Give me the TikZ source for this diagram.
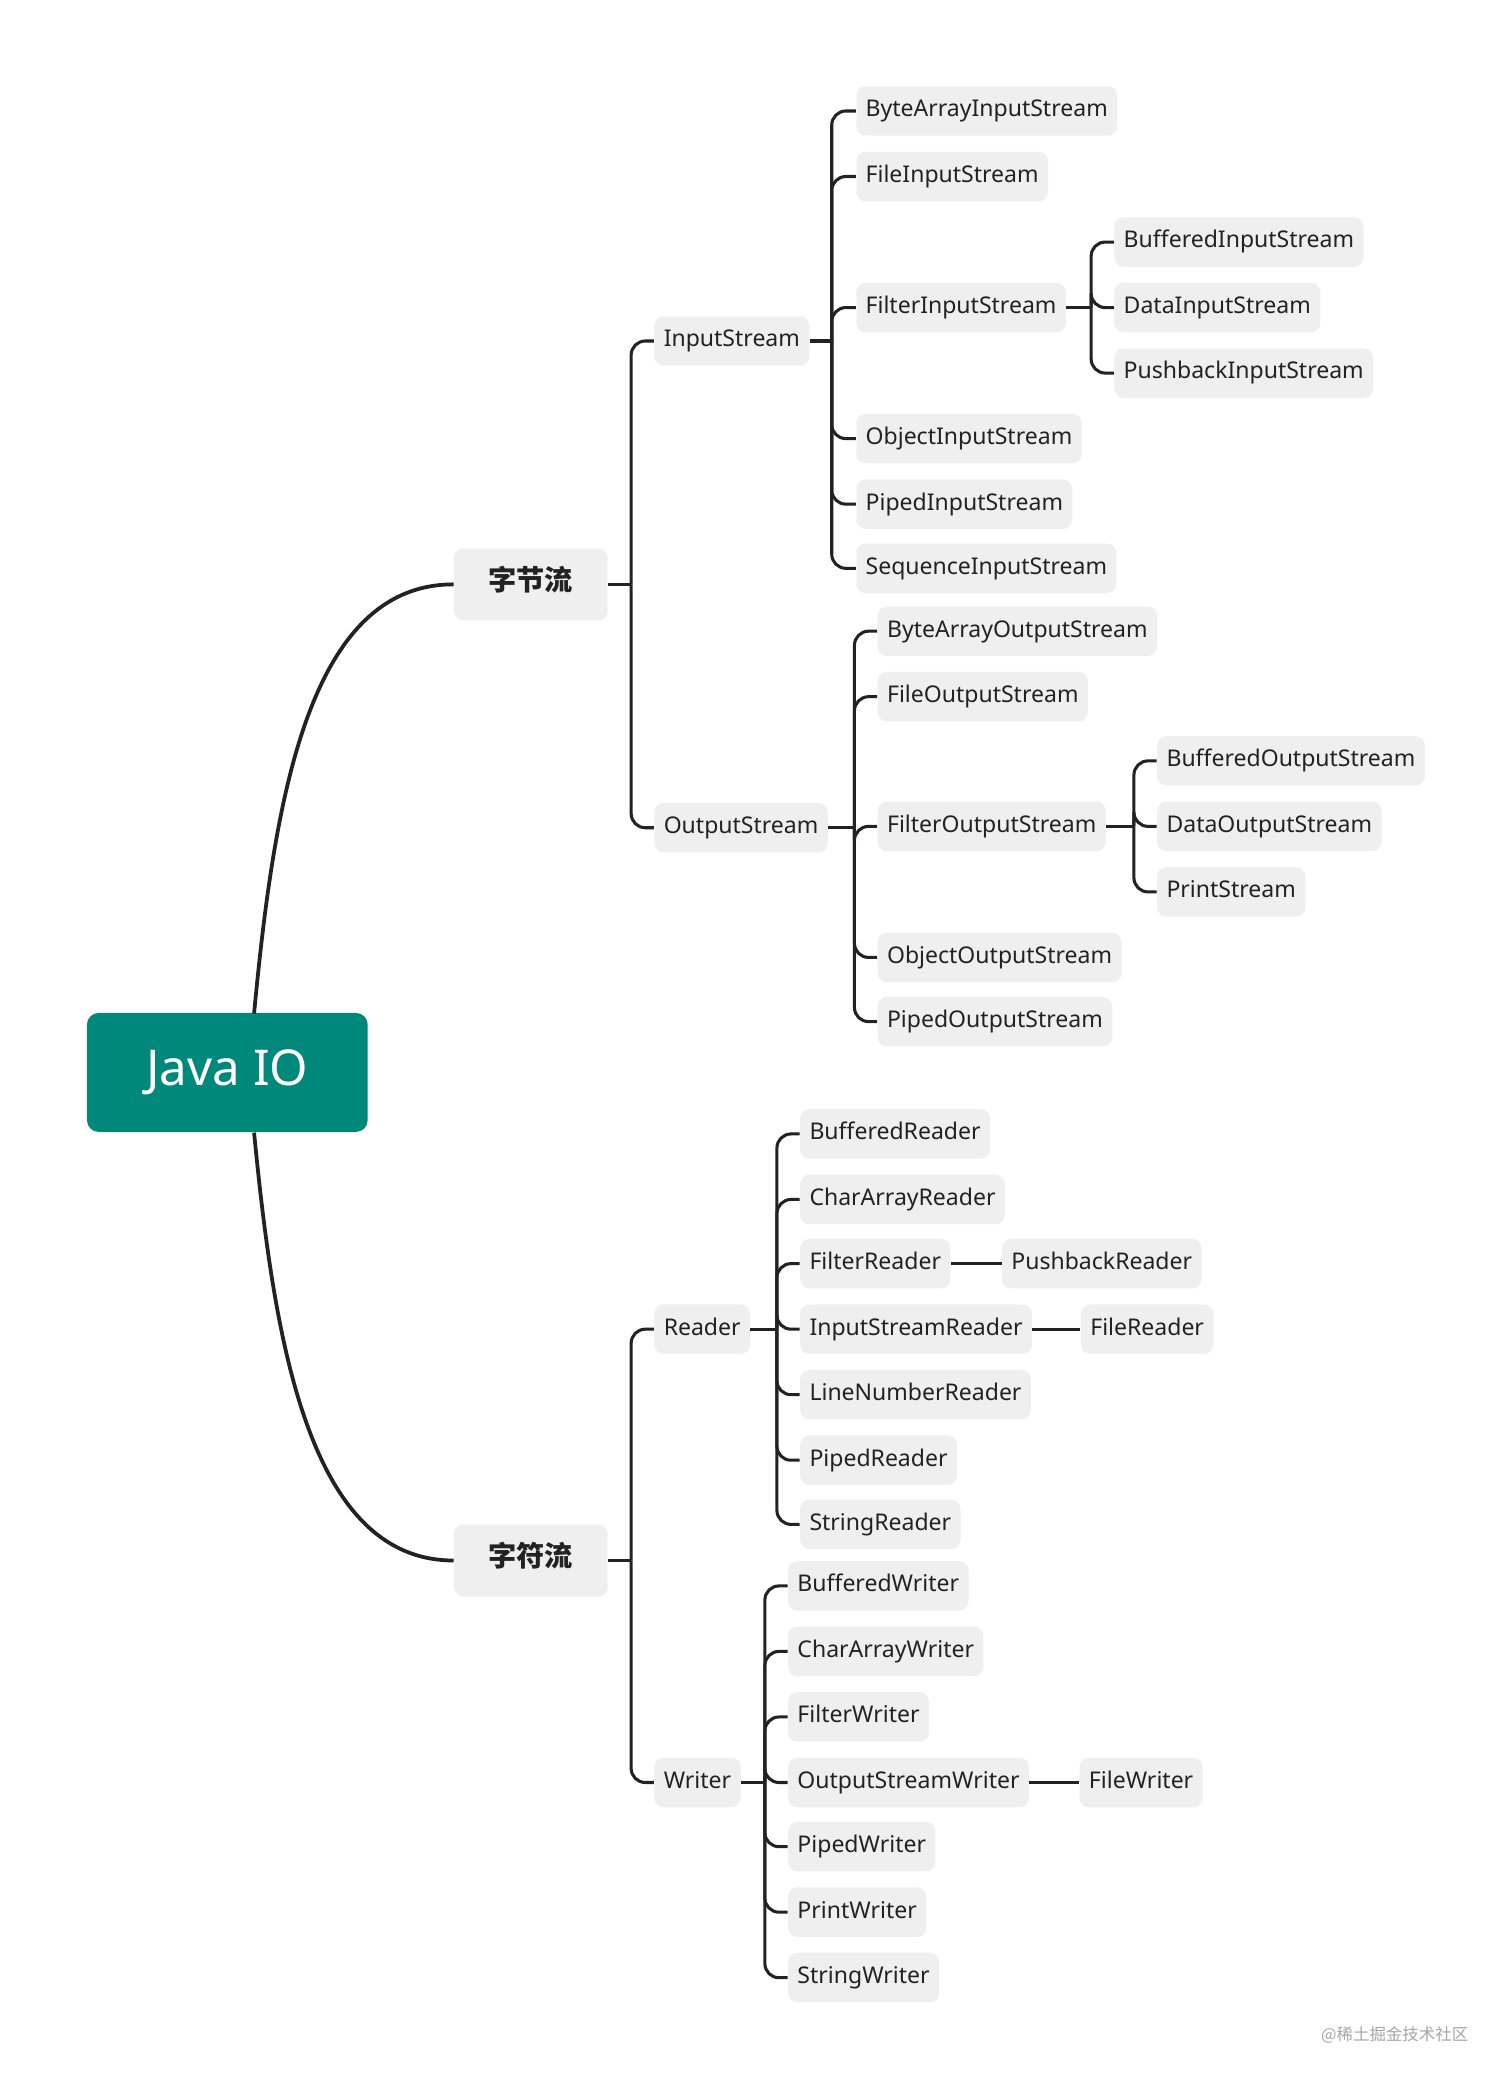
\documentclass[tikz,border=0pt]{standalone}
\usepackage{fontspec}
\setmainfont{Noto Sans}
\newfontfamily\cjk{Noto Sans CJK SC}
\usetikzlibrary{calc}
\definecolor{boxg}{HTML}{EFEFEF}
\definecolor{teal}{HTML}{00897B}
\definecolor{txt}{HTML}{222222}
\tikzset{
 box/.style={fill=boxg,rounded corners=4pt,text=txt,font=\fontsize{9.8}{11}\selectfont,inner xsep=4pt,minimum height=0.74cm,text height=7pt,text depth=2pt,anchor=west},
 big/.style={box,font=\cjk\bfseries\fontsize{12}{13}\selectfont,minimum height=1.08cm,minimum width=2.3cm,anchor=center},
 link/.style={draw=txt,line width=1.3pt},
}
\newcommand\mmkid[4]{\node[box] (#1) at (#3,#4) {#2};}
\newcommand\mmlink[3]{\draw[link] (#1.east) -- (#2,0 |- #1.east);
 \draw[link,rounded corners=6pt] (#2,0 |- #1.east) |- (#3.west);}
\begin{document}
\begin{tikzpicture}[x=0.02cm,y=-0.02cm]
\useasboundingbox[fill=white] (0,0) rectangle (1130,1560);
\node[fill=teal,rounded corners=5pt,text=white,minimum width=4.2cm,minimum height=1.78cm,font=\fontsize{21}{24}\selectfont] (root) at (170,802) {Java IO};
\node[big] (byte) at (397,437) {字节流};
\node[big] (char) at (397,1167) {字符流};
\draw[txt,line width=1.6pt] (190,758) .. controls (205,600) and (230,437) .. (byte.west);
\draw[txt,line width=1.6pt] (190,847) .. controls (205,1000) and (230,1167) .. (char.west);
\mmkid{is}{InputStream}{489}{255}
\mmkid{os}{OutputStream}{489}{619}
\mmlink{byte}{472}{is}\mmlink{byte}{472}{os}
\mmkid{bais}{ByteArrayInputStream}{640}{83}
\mmkid{fis}{FileInputStream}{640}{132}
\mmkid{filis}{FilterInputStream}{640}{230}
\mmkid{ois}{ObjectInputStream}{640}{328}
\mmkid{pis}{PipedInputStream}{640}{377}
\mmkid{sis}{SequenceInputStream}{640}{425}
\foreach \c in {bais,fis,filis,ois,pis,sis}{\mmlink{is}{622}{\c}}
\mmkid{bis}{BufferedInputStream}{833}{181}
\mmkid{dis}{DataInputStream}{833}{230}
\mmkid{pbis}{PushbackInputStream}{833}{279}
\foreach \c in {bis,dis,pbis}{\mmlink{filis}{816}{\c}}
\mmkid{baos}{ByteArrayOutputStream}{656}{472}
\mmkid{fos}{FileOutputStream}{656}{521}
\mmkid{filos}{FilterOutputStream}{656}{618}
\mmkid{oos}{ObjectOutputStream}{656}{716}
\mmkid{pos}{PipedOutputStream}{656}{764}
\foreach \c in {baos,fos,filos,oos,pos}{\mmlink{os}{639}{\c}}
\mmkid{bos}{BufferedOutputStream}{865}{569}
\mmkid{dos}{DataOutputStream}{865}{618}
\mmkid{ps}{PrintStream}{865}{667}
\foreach \c in {bos,dos,ps}{\mmlink{filos}{848}{\c}}
\mmkid{rd}{Reader}{489}{994}
\mmkid{wr}{Writer}{489}{1333}
\mmlink{char}{472}{rd}\mmlink{char}{472}{wr}
\mmkid{br}{BufferedReader}{598}{848}
\mmkid{car}{CharArrayReader}{598}{897}
\mmkid{fr}{FilterReader}{598}{945}
\mmkid{isr}{InputStreamReader}{598}{994}
\mmkid{lnr}{LineNumberReader}{598}{1043}
\mmkid{pr}{PipedReader}{598}{1092}
\mmkid{sr}{StringReader}{598}{1140}
\foreach \c in {br,car,fr,isr,lnr,pr,sr}{\mmlink{rd}{581}{\c}}
\mmkid{pbr}{PushbackReader}{749}{945}
\mmkid{filr}{FileReader}{808}{994}
\draw[link] (fr.east) -- (pbr.west);
\draw[link] (isr.east) -- (filr.west);
\mmkid{bw}{BufferedWriter}{589}{1186}
\mmkid{caw}{CharArrayWriter}{589}{1235}
\mmkid{fw}{FilterWriter}{589}{1284}
\mmkid{osw}{OutputStreamWriter}{589}{1333}
\mmkid{pw}{PipedWriter}{589}{1381}
\mmkid{prw}{PrintWriter}{589}{1430}
\mmkid{sw}{StringWriter}{589}{1479}
\foreach \c in {bw,caw,fw,osw,pw,prw,sw}{\mmlink{wr}{572}{\c}}
\mmkid{filw}{FileWriter}{807}{1333}
\draw[link] (osw.east) -- (filw.west);
\node[text=gray!70,font=\cjk\fontsize{7}{8}\selectfont] (wm) at (1043,1522) {@稀土掘金技术社区};
\end{tikzpicture}
\end{document}
